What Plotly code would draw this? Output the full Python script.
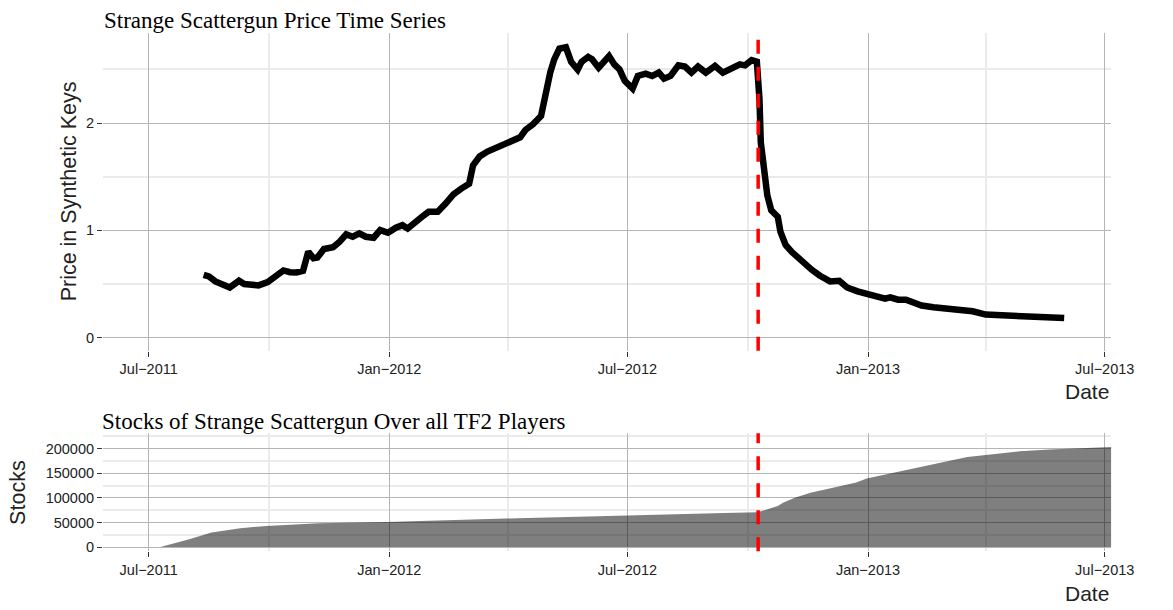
import plotly.graph_objects as go

W, H = 1173, 610

# ---------------- data ----------------
price_dates = ["2011-08-12","2011-08-16","2011-08-21","2011-08-26",
               "2011-09-01","2011-09-08","2011-09-12","2011-09-18","2011-09-23","2011-09-30",
               "2011-10-06","2011-10-12","2011-10-17","2011-10-22","2011-10-27","2011-10-31",
               "2011-11-04","2011-11-07","2011-11-12","2011-11-19","2011-11-24","2011-11-29",
               "2011-12-04","2011-12-09","2011-12-14","2011-12-20","2011-12-25","2011-12-31",
               "2012-01-06","2012-01-11","2012-01-15","2012-01-21","2012-01-26","2012-01-31",
               "2012-02-07","2012-02-13","2012-02-19","2012-02-25",
               "2012-03-02","2012-03-05","2012-03-10","2012-03-16","2012-03-23","2012-03-29",
               "2012-04-04","2012-04-10","2012-04-14","2012-04-20","2012-04-26","2012-04-30",
               "2012-05-03","2012-05-06","2012-05-10","2012-05-15","2012-05-19","2012-05-24","2012-05-27",
               "2012-06-01","2012-06-04","2012-06-09","2012-06-13","2012-06-17","2012-06-21","2012-06-25","2012-06-29",
               "2012-07-02","2012-07-05","2012-07-09","2012-07-15","2012-07-20","2012-07-25","2012-07-29",
               "2012-08-03","2012-08-09","2012-08-14","2012-08-19","2012-08-24","2012-08-30",
               "2012-09-06","2012-09-12","2012-09-19","2012-09-25","2012-09-29",
               "2012-10-04","2012-10-08","2012-10-10","2012-10-11","2012-10-13","2012-10-16","2012-10-19",
               "2012-10-24","2012-10-26","2012-10-30",
               "2012-11-04","2012-11-09","2012-11-13","2012-11-19","2012-11-25",
               "2012-12-03","2012-12-10","2012-12-16","2012-12-24","2012-12-31",
               "2013-01-06","2013-01-14","2013-01-18","2013-01-24","2013-01-30",
               "2013-02-05","2013-02-11","2013-02-20",
               "2013-03-02","2013-03-12","2013-03-22",
               "2013-04-01","2013-04-11","2013-04-21",
               "2013-05-01","2013-05-11","2013-05-21","2013-05-31"]
price_vals = [0.586,0.571,0.525,0.50,
              0.469,0.531,0.50,0.494,0.488,0.519,
              0.565,0.627,0.611,0.608,0.623,0.802,
              0.741,0.747,0.827,0.843,0.895,0.963,
              0.941,0.972,0.941,0.932,1.003,0.978,
              1.025,1.049,1.018,1.086,1.127,1.173,
              1.173,1.25,1.336,1.389,
              1.435,1.605,1.688,1.734,1.768,1.796,
              1.830,1.867,1.935,1.99,2.065,2.33,
              2.469,2.59,2.692,2.705,2.57,2.497,2.57,
              2.615,2.593,2.515,2.562,2.623,2.546,2.50,2.392,
              2.346,2.321,2.438,2.460,2.438,2.469,2.413,
              2.438,2.537,2.525,2.469,2.525,2.469,
              2.531,2.469,2.506,2.546,2.537,
              2.585,2.57,2.222,1.821,1.574,1.327,1.188,
              1.127,0.988,0.864,
              0.796,0.741,0.679,0.633,0.580,
              0.525,0.531,0.469,0.432,0.407,
              0.377,0.364,0.377,0.355,0.355,
              0.324,0.30,0.284,
              0.269,0.262,0.247,
              0.216,0.210,0.201,
              0.197,0.201,0.197,0.185]

stock_dates = ["2011-05-27","2011-07-10","2011-08-01","2011-08-18","2011-09-09","2011-09-29",
               "2011-11-08","2011-12-30","2012-03-30","2012-05-02","2012-07-01","2012-09-13",
               "2012-10-09","2012-10-11","2012-10-24","2012-10-28","2012-11-06","2012-11-18",
               "2012-12-03","2012-12-23","2012-12-31","2013-01-17","2013-02-11","2013-03-08",
               "2013-03-18","2013-04-01","2013-04-27","2013-05-20","2013-07-01","2013-07-06"]
stock_vals = [0,0,16000,29600,38400,43100,
              48500,51200,57900,60500,64000,69500,
              70700,72700,83600,90300,100400,110500,
              119200,131300,139400,149500,163000,177800,
              183200,187300,194700,198500,202000,203400]

event_date = "2012-10-09"

x_tick_dates = ["2011-07-01","2012-01-01","2012-07-01","2013-01-01","2013-07-01"]
x_tick_labels = ["Jul\u22122011","Jan\u22122012","Jul\u22122012","Jan\u22122013","Jul\u22122013"]
x_minor_dates = ["2011-10-01","2012-04-01","2012-10-01","2013-04-01"]
x_range = ["2011-05-27","2013-07-06"]

price_ticks = [0, 1, 2]
price_minor = [0.5, 1.5, 2.5]
stock_ticks = [0, 50000, 100000, 150000, 200000]
stock_minor = [25000, 75000, 125000, 175000, 225000]

title_top = "Strange Scattergun Price Time Series"
title_bottom = "Stocks of Strange Scattergun Over all TF2 Players"
ytitle_top = "Price in Synthetic Keys"
ytitle_bottom = "Stocks"
xtitle = "Date"

# ---------------- helpers ----------------
def px(x):
    return x / W

def py(y):
    return 1 - y / H

MAJOR = "#b5b5b5"
MINOR = "#ebebeb"
TXT = "#222222"
SANS = "Liberation Sans, Arial, sans-serif"
SERIF = "Liberation Serif, Times New Roman, serif"
TICK_SIZE = 14.5

fig = go.Figure()
fig.add_trace(go.Scatter(x=price_dates, y=price_vals, mode="lines",
                         line=dict(color="black", width=6.5),
                         xaxis="x", yaxis="y", showlegend=False, hoverinfo="skip"))
fig.add_trace(go.Scatter(x=stock_dates, y=stock_vals, mode="lines", fill="tozeroy",
                         fillcolor="rgba(0,0,0,0.5)", line=dict(width=0, color="rgba(0,0,0,0)"),
                         xaxis="x2", yaxis="y2", showlegend=False, hoverinfo="skip"))

def xaxis_cfg(anchor, x0, x1):
    return dict(domain=[px(x0), px(x1)], anchor=anchor, type="date", range=x_range,
                tickmode="array", tickvals=x_tick_dates, ticktext=x_tick_labels,
                ticks="outside", ticklen=5, tickwidth=1, tickcolor="#333333",
                showgrid=True, gridcolor=MAJOR, gridwidth=1,
                minor=dict(tickmode="array", tickvals=x_minor_dates, showgrid=True,
                           gridcolor=MINOR, gridwidth=2, ticks=""),
                showline=False, zeroline=False,
                tickfont=dict(family=SANS, size=TICK_SIZE, color=TXT))

def yaxis_cfg(anchor, y_top, y_bot, rng, tv, mv):
    return dict(domain=[py(y_bot), py(y_top)], anchor=anchor, range=rng,
                tickmode="array", tickvals=tv, ticktext=[str(v) for v in tv],
                ticks="outside", ticklen=5, tickwidth=1, tickcolor="#333333",
                showgrid=True, gridcolor=MAJOR, gridwidth=1,
                minor=dict(tickmode="array", tickvals=mv, showgrid=True,
                           gridcolor=MINOR, gridwidth=2, ticks=""),
                showline=False, zeroline=False,
                tickfont=dict(family=SANS, size=TICK_SIZE, color=TXT))

TOP_Y0, TOP_Y1 = 33, 353
BOT_Y0, BOT_Y1 = 436, 555
LEFT, RIGHT = 105, 1133.5

fig.update_layout(
    width=W, height=H,
    margin=dict(l=0, r=0, t=0, b=0),
    paper_bgcolor="white", plot_bgcolor="white",
    xaxis=xaxis_cfg("y", LEFT, RIGHT),
    yaxis=yaxis_cfg("x", TOP_Y0, TOP_Y1, [-0.12, 2.84], price_ticks, price_minor),
    xaxis2=xaxis_cfg("y2", LEFT, RIGHT),
    yaxis2=yaxis_cfg("x2", BOT_Y0, BOT_Y1, [-8700, 231700], stock_ticks, stock_minor),
)

# red dashed event line (drawn from bottom to top)
for xr, yr in (("x", "y domain"), ("x2", "y2 domain")):
    fig.add_shape(type="line", xref=xr, yref=yr, x0=event_date, x1=event_date, y0=0, y1=1,
                  line=dict(color="#ff0000", width=3.5, dash="14px,13px"), layer="above")

ann = [
    dict(text=title_top, x=px(104), y=py(21), xanchor="left", yanchor="middle",
         font=dict(family=SERIF, size=23, color="black")),
    dict(text=title_bottom, x=px(102), y=py(424), xanchor="left", yanchor="middle",
         font=dict(family=SERIF, size=23, color="black")),
    dict(text=xtitle, x=px(RIGHT), y=py(394), xanchor="right", yanchor="middle",
         font=dict(family=SANS, size=21, color=TXT)),
    dict(text=xtitle, x=px(RIGHT), y=py(597), xanchor="right", yanchor="middle",
         font=dict(family=SANS, size=21, color=TXT)),
    dict(text=ytitle_top, x=px(70), y=py((TOP_Y0 + TOP_Y1) / 2), xanchor="center", yanchor="middle",
         textangle=-90, font=dict(family=SANS, size=21.5, color=TXT)),
    dict(text=ytitle_bottom, x=px(19), y=py((BOT_Y0 + BOT_Y1) / 2), xanchor="center", yanchor="middle",
         textangle=-90, font=dict(family=SANS, size=21.5, color=TXT)),
]
for a in ann:
    a.update(xref="paper", yref="paper", showarrow=False)
fig.update_layout(annotations=ann)

fig.write_html("out.html",
               config={"displayModeBar": False},
               post_script="document.body.style.margin='0';document.body.style.overflow='hidden';")
